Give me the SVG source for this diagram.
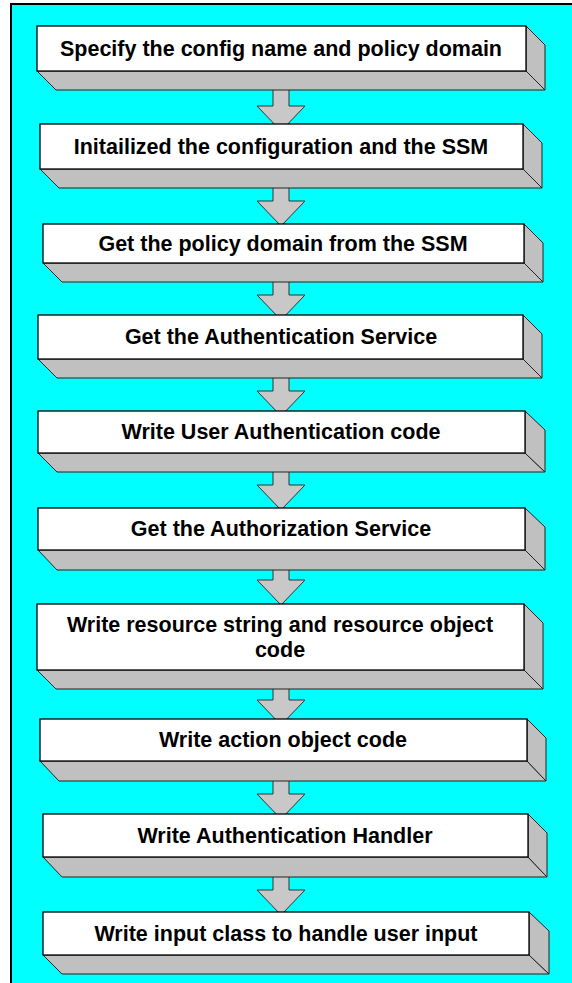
<svg xmlns="http://www.w3.org/2000/svg" width="572" height="983" viewBox="0 0 572 983">
<style>
.face{fill:#ffffff;stroke:#000;stroke-width:1.3}
.side{fill:#c0c0c0;stroke:#222;stroke-width:1}
.arrow{fill:#c8c8c8;stroke:#333;stroke-width:1}
.lbl{font-family:"Liberation Sans",Arial,Helvetica,sans-serif;font-weight:bold;font-size:21.5px;fill:#000;text-anchor:middle}
</style>
<rect x="0" y="0" width="572" height="983" fill="#ffffff"/>
<rect x="11" y="4" width="620" height="1020" fill="#00ffff" stroke="#000" stroke-width="2"/>
<g id="connectors">
<path class="arrow" d="M273,88 L289,88 L289,106 L305,106 L281,131 L257,106 L273,106 Z"/>
<path class="arrow" d="M273,186 L289,186 L289,201 L305,201 L281,226 L257,201 L273,201 Z"/>
<path class="arrow" d="M273,280 L289,280 L289,295 L305,295 L281,320 L257,295 L273,295 Z"/>
<path class="arrow" d="M273,376 L289,376 L289,391 L305,391 L281,416 L257,391 L273,391 Z"/>
<path class="arrow" d="M273,470 L289,470 L289,485 L305,485 L281,510 L257,485 L273,485 Z"/>
<path class="arrow" d="M273,568 L289,568 L289,580 L305,580 L281,605 L257,580 L273,580 Z"/>
<path class="arrow" d="M273,687 L289,687 L289,700 L305,700 L281,725 L257,700 L273,700 Z"/>
<path class="arrow" d="M273,779 L289,779 L289,794 L305,794 L281,819 L257,794 L273,794 Z"/>
<path class="arrow" d="M273,875 L289,875 L289,890 L305,890 L281,915 L257,890 L273,890 Z"/>
</g>
<g id="n1">
<polygon class="side" points="37,71 526,71 545,90 56,90"/>
<polygon class="side" points="526,26 545,45 545,90 526,71"/>
<rect class="face" x="37" y="26" width="489" height="45"/>
<text class="lbl" x="281" y="56">Specify the config name and policy domain</text>
</g>
<g id="n2">
<polygon class="side" points="40,169 523,169 542,188 59,188"/>
<polygon class="side" points="523,124 542,143 542,188 523,169"/>
<rect class="face" x="40" y="124" width="483" height="45"/>
<text class="lbl" x="281" y="154">Initailized the configuration and the SSM</text>
</g>
<g id="n3">
<polygon class="side" points="43,263 524,263 543,282 62,282"/>
<polygon class="side" points="524,224 543,243 543,282 524,263"/>
<rect class="face" x="43" y="224" width="481" height="39"/>
<text class="lbl" x="283" y="251">Get the policy domain from the SSM</text>
</g>
<g id="n4">
<polygon class="side" points="38,359 523,359 542,378 57,378"/>
<polygon class="side" points="523,315 542,334 542,378 523,359"/>
<rect class="face" x="38" y="315" width="485" height="44"/>
<text class="lbl" x="281" y="344">Get the Authentication Service</text>
</g>
<g id="n5">
<polygon class="side" points="38,453 525,453 545,472 57,472"/>
<polygon class="side" points="525,411 545,430 545,472 525,453"/>
<rect class="face" x="38" y="411" width="487" height="42"/>
<text class="lbl" x="281" y="439">Write User Authentication code</text>
</g>
<g id="n6">
<polygon class="side" points="38,550 525,550 545,570 57,570"/>
<polygon class="side" points="525,508 545,527 545,570 525,550"/>
<rect class="face" x="38" y="508" width="487" height="42"/>
<text class="lbl" x="281" y="536">Get the Authorization Service</text>
</g>
<g id="n7">
<polygon class="side" points="37,670 524,670 543,689 56,689"/>
<polygon class="side" points="524,604 543,623 543,689 524,670"/>
<rect class="face" x="37" y="604" width="487" height="66"/>
<text class="lbl" x="280" y="632">Write resource string and resource object</text>
<text class="lbl" x="280" y="657">code</text>
</g>
<g id="n8">
<polygon class="side" points="40,761 527,761 546,781 59,781"/>
<polygon class="side" points="527,719 546,738 546,781 527,761"/>
<rect class="face" x="40" y="719" width="487" height="42"/>
<text class="lbl" x="283" y="747">Write action object code</text>
</g>
<g id="n9">
<polygon class="side" points="43,857 528,857 547,877 62,877"/>
<polygon class="side" points="528,814 547,833 547,877 528,857"/>
<rect class="face" x="43" y="814" width="485" height="43"/>
<text class="lbl" x="285" y="843">Write Authentication Handler</text>
</g>
<g id="n10">
<polygon class="side" points="43,955 529,955 549,974 62,974"/>
<polygon class="side" points="529,912 549,931 549,974 529,955"/>
<rect class="face" x="43" y="912" width="486" height="43"/>
<text class="lbl" x="286" y="941">Write input class to handle user input</text>
</g>
</svg>
